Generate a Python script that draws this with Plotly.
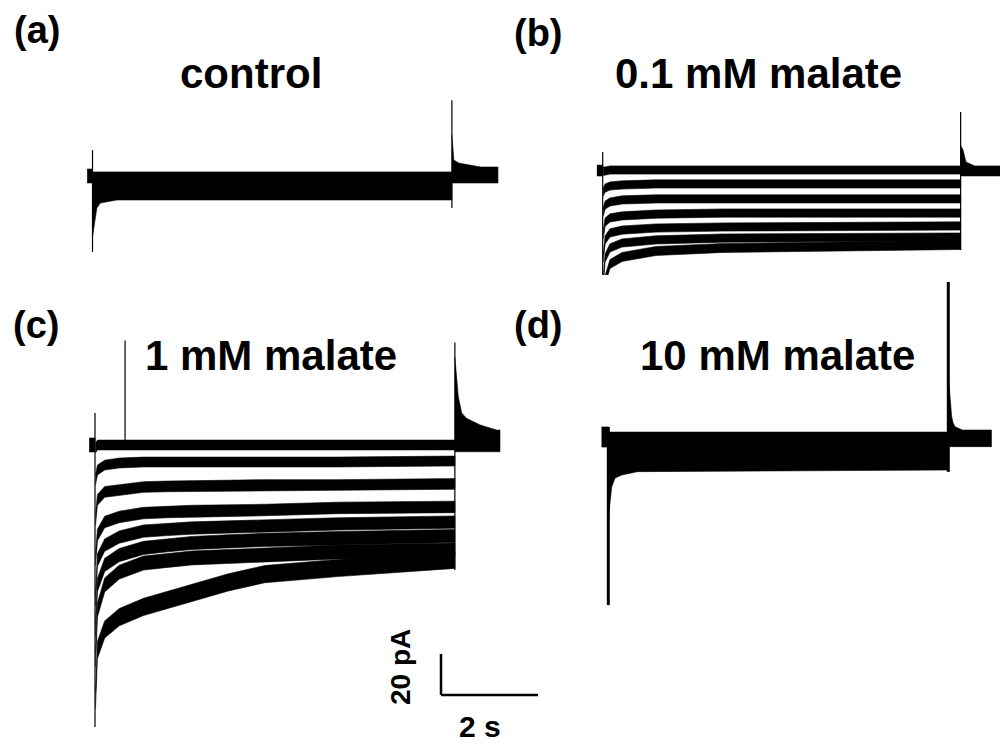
import plotly.graph_objects as go

# ---------------- scale of the recordings ----------------
SX = 48.5   # px per second (from the 2 s scale bar)
SY = 2.05   # px per pA (from the 20 pA scale bar)
SCALE_SEC = 2
SCALE_PA = 20

# ---------------- (a) control ----------------
A_PRE_T = [-0.11, 0.0]
A_PRE_UP = [3.4, 3.4]
A_PRE_LO = [-3.4, -3.4]
A_PULSE_T = [0.0, 0.03, 0.09, 0.16, 0.5, 4.0, 7.41]
A_PULSE_UP = [2.0, 2.0, 2.0, 2.0, 2.0, 2.0, 2.0]
A_PULSE_LO = [-30.0, -25.0, -15.6, -13.2, -11.7, -11.7, -11.7]
A_POST_T = [7.41, 7.43, 7.45, 7.55, 7.76, 8.0, 8.36]
A_POST_UP = [20.0, 14.1, 7.8, 6.3, 5.4, 4.4, 4.4]
A_POST_LO = [-3.4, -3.4, -3.4, -3.4, -3.4, -3.4, -3.4]
A_SPIKE_T = [0.0, 7.41]
A_SPIKE_TOP = [12.7, 37.0]
A_SPIKE_BOT = [-37.0, -15.6]

# ---------------- (b) 0.1 mM malate ----------------
B_PRE_T = [-0.12, 0.0]
B_PRE_UP = [2.4, 2.4]
B_PRE_LO = [-2.9, -2.9]
B_PULSE_T = [0.01, 0.05, 0.15, 0.4, 1.1, 2.5, 7.38]
B_TRACES = [
    [-0.5, -0.5, 0.0, 0.0, 0.0, 0.0, 0.0],
    [-10.7, -8.8, -7.8, -7.3, -6.8, -6.8, -6.8],
    [-20.5, -17.1, -15.6, -14.6, -14.1, -14.1, -14.1],
    [-31.7, -25.4, -23.4, -22.4, -21.5, -21.0, -21.0],
    [-42.9, -34.1, -30.7, -29.3, -28.3, -27.8, -27.3],
    [-54.6, -42.9, -38.0, -35.6, -34.1, -33.2, -32.7],
    [-65.9, -53.7, -45.9, -42.4, -39.5, -38.0, -36.6],
]
B_NOISE = [2.0, 2.0, 2.0, 2.0, 2.0, 2.0, 2.2]
B_POST_T = [7.38, 7.43, 7.49, 7.67, 7.9, 8.2]
B_POST_UP = [12.0, 9.8, 3.9, 2.0, 2.0, 2.0]
B_POST_LO = [-2.9, -2.9, -2.9, -2.9, -2.9, -2.9]
B_SPIKE_T = [0.0, 7.38]
B_SPIKE_TOP = [8.8, 28.3]
B_SPIKE_BOT = [-69.3, -39.0]

# ---------------- (c) 1 mM malate ----------------
C_PRE_T = [-0.12, 0.0]
C_PRE_UP = [3.4, 3.4]
C_PRE_LO = [-3.4, -3.4]
C_PULSE_T = [0.01, 0.05, 0.2, 0.5, 1.0, 1.5, 2.0, 2.75, 3.5, 5.0, 7.42]
C_TRACES = [
    [-1.5, 0.0, 0.0, 0.0, 0.0, 0.0, 0.0, 0.0, 0.0, 0.0, 0.0],
    [-17.1, -12.2, -9.8, -8.8, -8.3, -8.3, -8.3, -8.3, -8.3, -8.3, -7.8],
    [-36.6, -26.8, -22.9, -22.0, -20.5, -20.2, -20.0, -19.7, -19.5, -19.5, -19.0],
    [-56.1, -43.9, -37.6, -35.1, -33.2, -32.7, -32.2, -32.0, -31.7, -30.7, -30.2],
    [-75.6, -56.1, -48.8, -44.9, -42.0, -41.2, -40.5, -40.0, -39.5, -38.5, -37.6],
    [-90.2, -68.3, -58.5, -53.7, -50.2, -48.9, -47.8, -47.0, -46.3, -45.4, -44.4],
    [-104.9, -80.5, -68.3, -62.0, -57.6, -56.3, -55.1, -54.4, -53.7, -52.2, -51.2],
    [-124.4, -100.0, -90.0, -84.0, -79.0, -75.5, -72.0, -67.0, -63.0, -60.0, -56.0],
]
C_NOISE = [2.4, 2.4, 2.6, 2.8, 3.0, 3.2, 3.4, 4.2]
C_POST_T = [7.42, 7.46, 7.49, 7.56, 7.66, 7.94, 8.28, 8.35]
C_POST_UP = [43.0, 30.0, 23.6, 15.6, 13.0, 9.8, 7.3, 7.3]
C_POST_LO = [-3.3, -3.3, -3.3, -3.3, -3.3, -3.3, -3.3, -3.3]
C_SPIKE_T = [0.0, 0.62, 7.42]
C_SPIKE_TOP = [15.6, 51.0, 50.0]
C_SPIKE_BOT = [-137.6, 0.0, -61.0]

# ---------------- (d) 10 mM malate ----------------
D_PRE_T = [-0.14, 0.0]
D_PRE_UP = [4.9, 4.9]
D_PRE_LO = [-4.9, -4.9]
D_PULSE_T = [0.0, 0.07, 0.14, 0.28, 0.6, 4.0, 7.01]
D_PULSE_UP = [2.4, 2.4, 2.4, 2.4, 2.4, 2.4, 2.4]
D_PULSE_LO = [-40.0, -24.4, -20.0, -18.5, -16.9, -16.4, -16.1]
D_POST_T = [7.01, 7.05, 7.08, 7.11, 7.15, 7.3, 7.9]
D_POST_UP = [30.0, 16.6, 9.9, 6.8, 5.0, 3.4, 3.4]
D_POST_LO = [-4.7, -4.7, -4.7, -4.7, -4.7, -4.7, -4.7]
D_SPIKE_T = [0.0, 7.01]
D_SPIKE_TOP = [4.9, 75.6]
D_SPIKE_BOT = [-82.0, -17.0]

PANEL_LABELS = ["(a)", "(b)", "(c)", "(d)"]
PANEL_TITLES = ["control", "0.1 mM malate", "1 mM malate", "10 mM malate"]

# ---------------- layout geometry (pixels) ----------------
W, H = 1000, 744
# anchor = pixel of (t=0, I=0); box = pixel plot area (x0, x1, ytop, ybottom)
PANELS = [
    dict(anchor=(92.5, 176), box=(80, 510, 90, 265), spike_w=1.2),
    dict(anchor=(602.7, 170), box=(590, 1000, 95, 320), spike_w=1.2),
    dict(anchor=(95, 445), box=(80, 560, 330, 742), spike_w=1.2),
    dict(anchor=(608.3, 437), box=(590, 1000, 275, 615), spike_w=3.0),
]

fig = go.Figure()


def band(t, up, lo, k):
    fig.add_trace(go.Scatter(
        x=list(t) + list(t)[::-1], y=list(up) + list(lo)[::-1],
        fill="toself", fillcolor="black", mode="lines",
        line=dict(color="black", width=0.6),
        xaxis="x" if k == 0 else f"x{k+1}", yaxis="y" if k == 0 else f"y{k+1}",
        hoverinfo="skip"))


def spikes(ts, tops, bots, k, w):
    xs, ys = [], []
    for t, a, b in zip(ts, tops, bots):
        xs += [t, t, None]
        ys += [b, a, None]
    fig.add_trace(go.Scatter(
        x=xs, y=ys, mode="lines", line=dict(color="black", width=w),
        xaxis="x" if k == 0 else f"x{k+1}", yaxis="y" if k == 0 else f"y{k+1}",
        hoverinfo="skip"))


# (a)
band(A_PRE_T, A_PRE_UP, A_PRE_LO, 0)
band(A_PULSE_T, A_PULSE_UP, A_PULSE_LO, 0)
band(A_POST_T, A_POST_UP, A_POST_LO, 0)
spikes(A_SPIKE_T, A_SPIKE_TOP, A_SPIKE_BOT, 0, PANELS[0]["spike_w"])

# (b)
band(B_PRE_T, B_PRE_UP, B_PRE_LO, 1)
for tr, hw in zip(B_TRACES, B_NOISE):
    band(B_PULSE_T, [v + hw for v in tr], [v - hw for v in tr], 1)
band(B_POST_T, B_POST_UP, B_POST_LO, 1)
spikes(B_SPIKE_T, B_SPIKE_TOP, B_SPIKE_BOT, 1, PANELS[1]["spike_w"])

# (c)
band(C_PRE_T, C_PRE_UP, C_PRE_LO, 2)
for tr, hw in zip(C_TRACES, C_NOISE):
    band(C_PULSE_T, [v + hw for v in tr], [v - hw for v in tr], 2)
band(C_POST_T, C_POST_UP, C_POST_LO, 2)
spikes(C_SPIKE_T, C_SPIKE_TOP, C_SPIKE_BOT, 2, PANELS[2]["spike_w"])

# (d)
band(D_PRE_T, D_PRE_UP, D_PRE_LO, 3)
band(D_PULSE_T, D_PULSE_UP, D_PULSE_LO, 3)
band(D_POST_T, D_POST_UP, D_POST_LO, 3)
spikes(D_SPIKE_T, D_SPIKE_TOP, D_SPIKE_BOT, 3, PANELS[3]["spike_w"])

# axes for each panel, with the same scale everywhere
layout_axes = {}
for k, p in enumerate(PANELS):
    ax, ay = p["anchor"]
    x0, x1, yt, yb = p["box"]
    sfx = "" if k == 0 else str(k + 1)
    layout_axes[f"xaxis{sfx}"] = dict(
        domain=[x0 / W, x1 / W], range=[(x0 - ax) / SX, (x1 - ax) / SX],
        visible=False, fixedrange=True,
        anchor="y" if k == 0 else f"y{k+1}")
    layout_axes[f"yaxis{sfx}"] = dict(
        domain=[1 - yb / H, 1 - yt / H], range=[(ay - yb) / SY, (ay - yt) / SY],
        visible=False, fixedrange=True,
        anchor="x" if k == 0 else f"x{k+1}")

# scale bar in panel (c) coordinates
SB_T0 = (441 - PANELS[2]["anchor"][0]) / SX
SB_I0 = (PANELS[2]["anchor"][1] - 695) / SY
shapes = [
    dict(type="line", xref="x3", yref="y3", x0=SB_T0, x1=SB_T0,
         y0=SB_I0, y1=SB_I0 + SCALE_PA, line=dict(color="black", width=2.5)),
    dict(type="line", xref="x3", yref="y3", x0=SB_T0, x1=SB_T0 + SCALE_SEC,
         y0=SB_I0, y1=SB_I0, line=dict(color="black", width=2.5)),
]

FONT = "Liberation Sans, Arial, sans-serif"
LABEL_POS = [(37, 30), (538, 33), (36, 325), (538, 325)]
TITLE_POS = [(251, 73), (758, 73), (271, 355), (777, 355)]
annotations = []
for lab, (x, y) in zip(PANEL_LABELS, LABEL_POS):
    annotations.append(dict(text=f"<b>{lab}</b>", x=x / W, y=1 - y / H, xref="paper", yref="paper",
                            showarrow=False, xanchor="center", yanchor="middle",
                            font=dict(family=FONT, size=38, color="black")))
for tit, (x, y) in zip(PANEL_TITLES, TITLE_POS):
    annotations.append(dict(text=f"<b>{tit}</b>", x=x / W, y=1 - y / H, xref="paper", yref="paper",
                            showarrow=False, xanchor="center", yanchor="middle",
                            font=dict(family=FONT, size=42, color="black")))
annotations.append(dict(text=f"<b>{SCALE_PA} pA</b>", x=400 / W, y=1 - 667 / H, xref="paper", yref="paper",
                        showarrow=False, textangle=-90, xanchor="center", yanchor="middle",
                        font=dict(family=FONT, size=28, color="black")))
annotations.append(dict(text=f"<b>{SCALE_SEC} s</b>", x=480 / W, y=1 - 726 / H, xref="paper", yref="paper",
                        showarrow=False, xanchor="center", yanchor="middle",
                        font=dict(family=FONT, size=30, color="black")))

fig.update_layout(
    width=W, height=H, margin=dict(l=0, r=0, t=0, b=0),
    paper_bgcolor="white", plot_bgcolor="white", showlegend=False,
    shapes=shapes, annotations=annotations, **layout_axes)

fig.write_html("out.html", config={"displayModeBar": False},
               post_script="document.body.style.margin='0';")
